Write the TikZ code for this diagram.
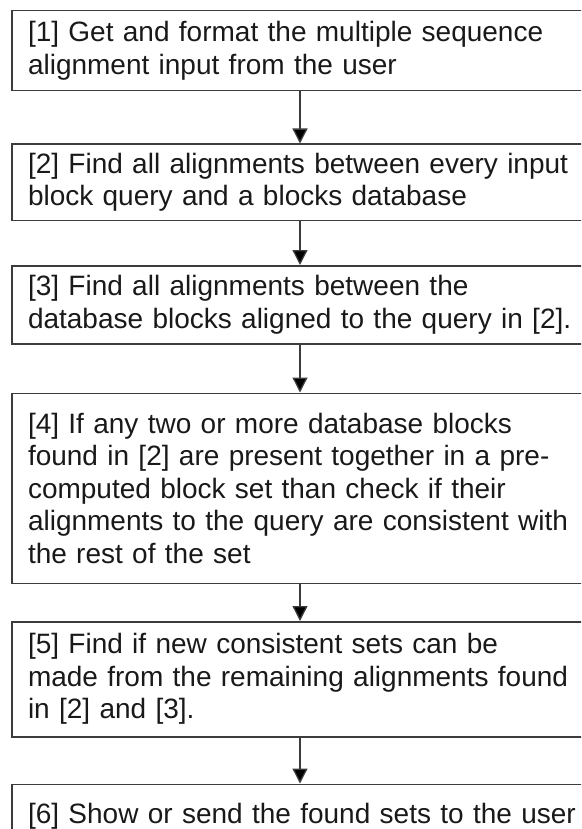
\documentclass[tikz,border=0pt]{standalone}
\usepackage{fontspec}
\setmainfont{Liberation Sans}
\usetikzlibrary{positioning,arrows.meta}
\definecolor{boxgray}{RGB}{60,60,60}

\begin{document}
\begin{tikzpicture}[x=1pt,y=1pt,
            stage box/.style={rectangle,draw=boxgray,line width=1.5pt,
                minimum width=576pt,text width=544pt,inner xsep=16pt,inner ysep=0pt,
                align=left,text=black!90,font=\fontsize{28}{32.5}\selectfont},
            flow/.style={-{Triangle[width=15pt,length=15pt]},line width=1.3pt,draw=boxgray}]

        \useasboundingbox (0,0) rectangle (581,-829);
        \clip (0,0) rectangle (581,-829);

        % Define boxes
        \node[stage box,anchor=north,minimum height=80pt] (b1) at (300,-10)
            {[1] Get and format the multiple sequence\\alignment input from the user};
        \node[stage box,minimum height=76pt] (b2) [below=52pt of b1]
            {[2] Find all alignments between every input\\block query and a blocks database};
        \node[stage box,minimum height=78pt] (b3) [below=44pt of b2]
            {[3] Find all alignments between the\\database blocks aligned to the query in [2].};
        \node[stage box,minimum height=190pt] (b4) [below=48pt of b3]
            {[4] If any two or more database blocks\\found in [2] are present together in a pre-\\computed block set than check if their\\alignments to the query are consistent with\\the rest of the set};
        \node[stage box,minimum height=115pt] (b5) [below=37pt of b4]
            {[5] Find if new consistent sets can be\\made from the remaining alignments found\\in [2] and [3].};
        \node[stage box,minimum height=64pt] (b6) [below=46pt of b5]
            {\mbox{[6] Show or send the found sets to the user}};

        % Draw arrows
        \path[flow]
            (b1) edge (b2)
            (b2) edge (b3)
            (b3) edge (b4)
            (b4) edge (b5)
            (b5) edge (b6);

\end{tikzpicture}
\end{document}
